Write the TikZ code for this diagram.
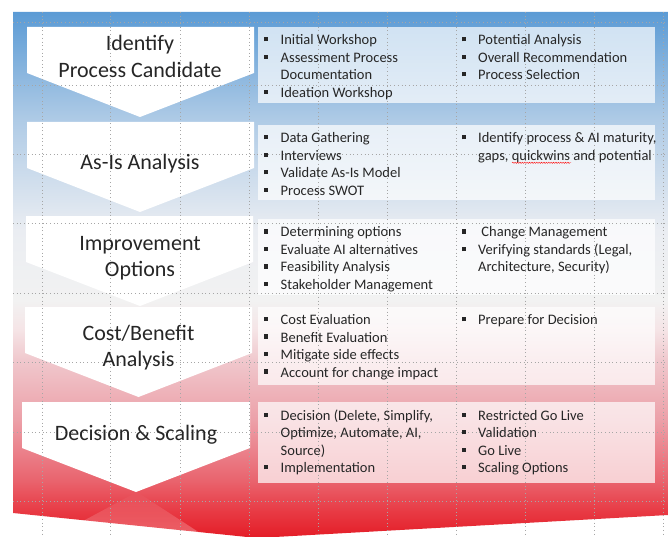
\documentclass[tikz,border=0pt]{standalone}
\usepackage{fontspec}
\setmainfont{Carlito}
\usetikzlibrary{fadings,decorations.pathmorphing}

\definecolor{bgblue}{RGB}{91,155,213}
\definecolor{bgsky}{RGB}{175,203,230}
\definecolor{bgpale}{RGB}{234,237,242}
\definecolor{bggray}{RGB}{242,242,242}
\definecolor{bgblush}{RGB}{245,228,230}
\definecolor{bgflush}{RGB}{240,200,205}
\definecolor{bgpink}{RGB}{236,160,168}
\definecolor{bgrose}{RGB}{235,130,140}
\definecolor{bgcoral}{RGB}{233,100,110}
\definecolor{bgscarlet}{RGB}{232,60,70}
\definecolor{bgred}{RGB}{228,28,38}

\pgfdeclareverticalshading{bgfade}{100bp}{color(0bp)=(bgred); color(25bp)=(bgred); color(27.7bp)=(bgscarlet); color(30.5bp)=(bgcoral); color(33.4bp)=(bgrose); color(36.2bp)=(bgpink); color(41.9bp)=(bgflush); color(44.8bp)=(bgblush); color(47.6bp)=(bggray); color(54.3bp)=(bgpale); color(64.7bp)=(bgsky); color(75bp)=(bgblue); color(100bp)=(bgblue)}

\newcommand\blt{\strut\llap{\raisebox{3.4pt}{\rule{4.3pt}{4.3pt}}\hspace{12.4pt}}}

\begin{document}
\begin{tikzpicture}[x=1pt,y=-1pt,
    chev/.style={fill=white},
    card/.style={fill=white,fill opacity=.7},
    guide/.style={gray!70,line width=.6pt,dash pattern=on .7pt off 3pt},
    squiggle/.style={red,line width=.4pt,decorate,decoration={snake,amplitude=.6pt,segment length=2.4pt}},
    stage/.style={anchor=north,align=center,inner sep=0pt,text=black!85,font=\fontsize{22}{26.7}\selectfont},
    items/.style={anchor=north west,align=left,inner sep=0pt,text=black!85,font=\fontsize{14.5}{17.5}\selectfont}]
    \useasboundingbox (0,0) rectangle (668,537);

    \shade[shading=bgfade] (13,12) -- (668,12) -- (668,515) -- (257,538) -- (13,513) -- cycle;
    \fill[white,opacity=.28,path fading=north] (137,492) -- (200,533) -- (83,521) -- cycle;

    \foreach \l/\r/\t/\m in {27/254/27/140,27/254/122/140,26/253/216/140,25/252/307/138.5,22/250/402/136} {
        \fill[chev] (\l,\t) -- (\r,\t) -- (\r,\t+46) -- (\m,\t+90) -- (\l,\t+46) -- cycle;
    }

    \foreach \t/\b in {27/103,125/200,219/295,307/385,402/483} {
        \fill[card] (258,\t) rectangle (655,\b);
    }

    \foreach \x in {42,110,180,249,318,387,456,525,594,663} {
        \draw[guide] (\x,12) -- (\x,537);
    }
    \foreach \y in {22,85,154,223,293,362,432,501} {
        \draw[guide] (13,\y) -- (668,\y);
    }

    \node[stage] (s1) at (140,32) {\strut Identify\\Process Candidate};
    \node[stage] (s2) at (140,150.6) {\strut As-Is Analysis};
    \node[stage] (s3) at (140,231.3) {\strut Improvement\\Options};
    \node[stage] (s4) at (138.5,321.3) {\strut Cost/Benefit\\Analysis};
    \node[stage] (s5) at (136,422) {\strut Decision \& Scaling};

    \node[items] (l1) at (280.5,32.3) {\blt Initial Workshop\\\blt Assessment Process\\Documentation\\\blt Ideation Workshop};
    \node[items] (r1) at (478,32.3) {\blt Potential Analysis\\\blt Overall Recommendation\\\blt Process Selection};
    \node[items] (l2) at (280.5,130.45) {\blt Data Gathering\\\blt Interviews\\\blt Validate As-Is Model\\\blt Process SWOT};
    \node[items] (r2) at (478,130.45) {\blt Identify process \& AI maturity,\\gaps, quickwins and potential};
    \node[items] (l3) at (280.5,224.45) {\blt Determining options\\\blt Evaluate AI alternatives\\\blt Feasibility Analysis\\\blt Stakeholder Management};
    \node[items] (r3) at (478,224.45) {\blt\ Change Management\\\blt Verifying standards (Legal,\\Architecture, Security)};
    \node[items] (l4) at (280.5,312.15) {\blt Cost Evaluation\\\blt Benefit Evaluation\\\blt Mitigate side effects\\\blt Account for change impact};
    \node[items] (r4) at (478,312.15) {\blt Prepare for Decision};
    \node[items] (l5) at (280.5,407.75) {\blt Decision (Delete, Simplify,\\Optimize, Automate, AI,\\Source)\\\blt Implementation};
    \node[items] (r5) at (478,407.75) {\blt Restricted Go Live\\\blt Validation\\\blt Go Live\\\blt Scaling Options};

    \draw[squiggle] (512,162.8) -- (571,162.8);
\end{tikzpicture}
\end{document}
